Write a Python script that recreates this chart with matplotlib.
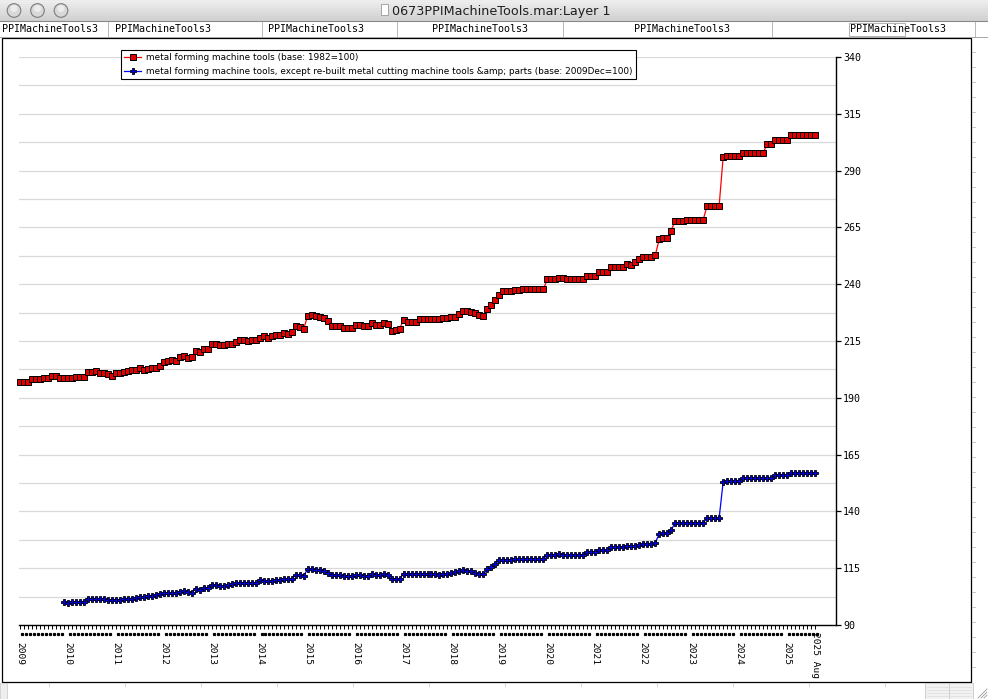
import numpy as np
import matplotlib
matplotlib.use('Agg')
import matplotlib.pyplot as plt
import matplotlib.transforms as mtransforms
from matplotlib.patches import Rectangle, Circle

# metal forming machine tools (base: 1982=100), monthly from 2009 Jan to 2025 Aug
forming = [
    197.1, 197.1, 197.1, 198.4, 198.4, 198.4, 198.8, 198.8, 199.7, 199.7, 198.8, 198.8,  # 2009
    198.8, 198.8, 199.3, 199.3, 199.3, 201.5, 201.5, 201.9, 201.0, 201.0, 200.3, 199.7,  # 2010
    200.7, 200.7, 201.5, 201.9, 202.4, 202.4, 203.2, 202.4, 202.8, 203.2, 203.2, 204.1,  # 2011
    205.9, 206.3, 206.8, 206.3, 208.1, 208.5, 207.6, 208.1, 210.7, 210.3, 211.6, 211.6,  # 2012
    213.8, 213.8, 213.4, 213.4, 213.8, 213.8, 214.7, 215.5, 215.5, 215.1, 215.5, 215.5,  # 2013
    216.4, 217.3, 216.4, 217.3, 217.7, 217.7, 218.6, 218.1, 219.0, 221.6, 221.2, 220.3,  # 2014
    226.0, 226.5, 226.0, 225.6, 225.2, 223.8, 221.6, 221.6, 221.6, 220.7, 220.7, 220.7,  # 2015
    222.1, 222.1, 221.6, 221.6, 223.0, 222.1, 222.1, 223.0, 222.5, 219.5, 219.9, 220.3,  # 2016
    224.3, 223.4, 223.4, 223.4, 224.7, 224.7, 224.7, 224.7, 224.7, 224.7, 225.1, 225.1,  # 2017
    225.6, 225.6, 226.9, 228.3, 228.3, 227.8, 227.3, 226.5, 226.0, 229.3, 230.8, 233.0,  # 2018
    235.2, 236.9, 236.9, 236.9, 237.4, 237.4, 237.8, 237.8, 237.8, 237.8, 237.8, 237.8,  # 2019
    242.2, 242.2, 242.2, 242.6, 242.6, 242.2, 242.2, 242.2, 242.2, 242.2, 243.5, 243.5,  # 2020
    243.5, 245.2, 245.2, 245.2, 247.4, 247.4, 247.4, 247.4, 248.7, 248.3, 249.6, 250.9,  # 2021
    251.8, 251.8, 251.8, 252.7, 259.7, 260.5, 260.5, 263.6, 268.0, 268.0, 268.0, 268.4,  # 2022
    268.4, 268.4, 268.4, 268.4, 274.5, 274.5, 274.5, 274.5, 295.9, 296.4, 296.4, 296.4,  # 2023
    296.4, 297.7, 297.7, 297.7, 297.7, 297.7, 297.7, 301.6, 301.6, 303.4, 303.4, 303.4,  # 2024
    303.4, 305.5, 305.5, 305.5, 305.5, 305.5, 305.5, 305.5,                              # 2025
]

# metal forming machine tools, except re-built ... (base: 2009Dec=100), from 2009 Dec
forming_ex_start = 11
forming_ex = [
    100.0,                                                                               # 2009 Dec
    99.9, 100.3, 100.3, 100.3, 100.3, 101.6, 101.3, 101.6, 101.6, 101.3, 100.9, 100.9,  # 2010
    100.9, 100.9, 101.3, 101.6, 101.6, 102.1, 102.5, 102.5, 102.9, 102.9, 103.4, 103.8,  # 2011
    104.2, 104.2, 104.2, 104.2, 104.7, 105.1, 104.7, 104.2, 106.0, 105.6, 106.4, 106.4,  # 2012
    107.7, 107.7, 107.3, 107.3, 107.7, 108.1, 108.5, 108.5, 108.5, 108.5, 108.5, 108.5,  # 2013
    109.8, 109.4, 109.4, 109.4, 109.8, 109.8, 110.3, 110.3, 110.3, 112.0, 112.0, 111.6,  # 2014
    114.6, 114.6, 114.1, 114.1, 113.7, 112.8, 112.0, 112.0, 112.0, 111.6, 111.6, 111.6,  # 2015
    112.0, 112.0, 111.6, 111.6, 112.4, 112.0, 112.0, 112.4, 112.0, 110.3, 110.3, 110.3,  # 2016
    112.4, 112.4, 112.4, 112.4, 112.4, 112.4, 112.4, 112.4, 112.4, 112.0, 112.4, 112.4,  # 2017
    112.8, 113.3, 113.7, 114.1, 113.7, 113.7, 112.8, 112.4, 112.4, 114.5, 115.6, 116.9,  # 2018
    118.5, 118.5, 118.5, 118.5, 119.1, 119.1, 119.1, 119.1, 119.1, 119.1, 119.1, 119.1,  # 2019
    120.9, 120.9, 120.9, 121.3, 120.9, 120.9, 120.9, 120.9, 120.9, 120.9, 122.2, 122.2,  # 2020
    122.2, 123.1, 123.1, 123.1, 124.4, 124.4, 124.4, 124.4, 124.8, 124.8, 124.8, 125.3,  # 2021
    125.7, 125.7, 125.7, 126.1, 130.1, 130.5, 130.5, 131.9, 134.9, 134.9, 134.9, 134.9,  # 2022
    134.9, 134.9, 134.9, 134.9, 137.1, 137.1, 137.1, 137.1, 152.9, 153.4, 153.4, 153.4,  # 2023
    153.4, 154.7, 154.7, 154.7, 154.7, 154.7, 154.7, 154.7, 154.7, 156.0, 156.0, 156.0,  # 2024
    156.0, 156.9, 156.9, 156.9, 156.9, 156.9, 156.9, 156.9,                              # 2025
]

years = list(range(2009, 2026))
last_label = '2025 Aug'
y_ticks = list(range(90, 341, 25))
legend_labels = [
    'metal forming machine tools (base: 1982=100)',
    'metal forming machine tools, except re-built metal cutting machine tools &amp; parts (base: 2009Dec=100)',
]
window_title = '0673PPIMachineTools.mar:Layer 1'
tab_names = ['PPIMachineTools3'] * 6

W, H = 988, 699
MONO = 'DejaVu Sans Mono'

fig = plt.figure(figsize=(W / 100, H / 100), dpi=100)
fig.patch.set_facecolor('white')

# ---- window chrome, drawn in pixel coordinates ----
bg = fig.add_axes([0, 0, 1, 1], zorder=-1)
bg.set_xlim(0, W)
bg.set_ylim(H, 0)
bg.axis('off')

rows = np.linspace(0.94, 0.82, 21)
rows[::2] -= 0.015
bg.imshow(rows[:, None] * np.ones((1, 4)), extent=(0, W, 21, 0), aspect='auto',
          cmap='gray', vmin=0, vmax=1, interpolation='nearest')
bg.plot([0, W], [21, 21], color='#8a8a8a', lw=0.8)
for cx in (14, 37.5, 61):
    bg.add_patch(Circle((cx, 10.5), 6.8, facecolor='#d8d8d8', edgecolor='#7c7c7c', lw=0.8))
    bg.add_patch(Circle((cx, 8.5), 3.5, facecolor='#f2f2f2', edgecolor='none', alpha=0.8))
bg.add_patch(Rectangle((381, 4), 7, 11, facecolor='white', edgecolor='#999999', lw=0.6))
bg.text(392, 11, window_title, fontsize=9.2, va='center', ha='left', color='#1e1e1e')

# tab row
bg.add_patch(Rectangle((0, 21.5), W, 15, facecolor='white', edgecolor='none'))
for tx, name in zip((2, 115, 268, 432, 634, 850), tab_names):
    bg.text(tx, 29, name, fontsize=7.2, family=MONO, va='center', ha='left', color='black')
for sx in (108, 262, 397, 563, 772, 975):
    bg.plot([sx, sx], [22, 36], color='#b8b8b8', lw=0.7)
bg.add_patch(Rectangle((849, 22.5), 56, 13, facecolor='none', edgecolor='#b0b0b0', lw=0.7))
bg.plot([0, W], [36.5, 36.5], color='#a8a8a8', lw=0.7)

# main panel and side rulers
bg.add_patch(Rectangle((1.5, 37.5), 969, 644, facecolor='white', edgecolor='black', lw=0.9))
for ty in np.arange(52, 682, 15):
    bg.plot([971.5, 974.5], [ty, ty], color='#c4c4c4', lw=0.7)
for tx in np.arange(49, 925, 76):
    bg.plot([tx, tx], [683, 686], color='#d4d4d4', lw=0.7)
bg.add_patch(Rectangle((0, 683), 7, 16, facecolor='#eeeeee', edgecolor='#cfcfcf', lw=0.6))
bg.add_patch(Rectangle((925, 683), 48, 16, facecolor='#f2f2f2', edgecolor='#c8c8c8', lw=0.6))
bg.plot([949, 949], [683, 699], color='#c8c8c8', lw=0.6)
for ly in (687, 690, 693, 696):
    bg.plot([927, 971], [ly, ly], color='#dcdcdc', lw=0.5)
for k in range(3):
    bg.plot([978 + 3 * k, 987], [698, 689 + 3 * k], color='#9a9a9a', lw=0.6)

# ---- chart ----
ax = fig.add_axes([19 / W, 1 - 625 / H, 817 / W, 568 / H])
ax.set_xlim(-0.25, 204.25)
ax.set_ylim(90, 340)
for side in ('top', 'left'):
    ax.spines[side].set_visible(False)
for side in ('bottom', 'right'):
    ax.spines[side].set_linewidth(1.0)

ax.yaxis.tick_right()
ax.set_yticks(y_ticks)
ax.set_yticks(np.arange(90, 341, 12.5), minor=True)
ax.tick_params(axis='y', which='major', direction='out', length=3.5, width=0.9, pad=1.5,
               labelsize=7.2, labelfontfamily=MONO)
ax.tick_params(axis='y', which='minor', length=0)
ax.yaxis.grid(True, which='both', color='#d9d9d9', lw=0.9)
ax.set_axisbelow(True)

months = np.arange(len(forming))
ex_months = np.arange(forming_ex_start, forming_ex_start + len(forming_ex))
jan = [12 * (y - years[0]) for y in years]
ax.set_xticks(jan)
ax.set_xticklabels([str(y) for y in years], rotation=270, fontsize=6.8, family=MONO)
ax.set_xticks(months, minor=True)
ax.tick_params(axis='x', which='major', length=3, width=0.7, pad=9)
ax.tick_params(axis='x', which='minor', length=3, width=0.7)

trans = mtransforms.blended_transform_factory(ax.transData, ax.transAxes)
dots = [m + 0.45 for m in months if m % 12 != 11]
ax.plot(dots, [-9 / 568] * len(dots), ls='none', marker='s', ms=1.3, color='black',
        transform=trans, clip_on=False)
ax.text(months[-1], -7 / 568, last_label, transform=trans, rotation=270, ha='center', va='top',
        fontsize=6.8, family=MONO)

l1, = ax.plot(months, forming, color='#ff0000', lw=0.9, marker='s', ms=3.8,
              mfc='#e00000', mec='black', mew=0.7, clip_on=False, label=legend_labels[0])
l2, = ax.plot(ex_months, forming_ex, color='#0000ff', lw=0.9, marker='P', ms=4.4,
              mfc='#0000e8', mec='black', mew=0.6, clip_on=False, label=legend_labels[1])

leg = ax.legend(handles=[l1, l2], loc='upper left', bbox_to_anchor=(121 / W, 1 - 50 / H),
                bbox_transform=fig.transFigure, frameon=True, fancybox=False, framealpha=1,
                edgecolor='black', borderpad=0.3, borderaxespad=0, handlelength=2.0,
                handletextpad=0.55, labelspacing=0.6, prop={'family': 'DejaVu Sans', 'size': 6.4})
leg.get_frame().set_linewidth(0.8)

fig.savefig('out.png', dpi=100)
